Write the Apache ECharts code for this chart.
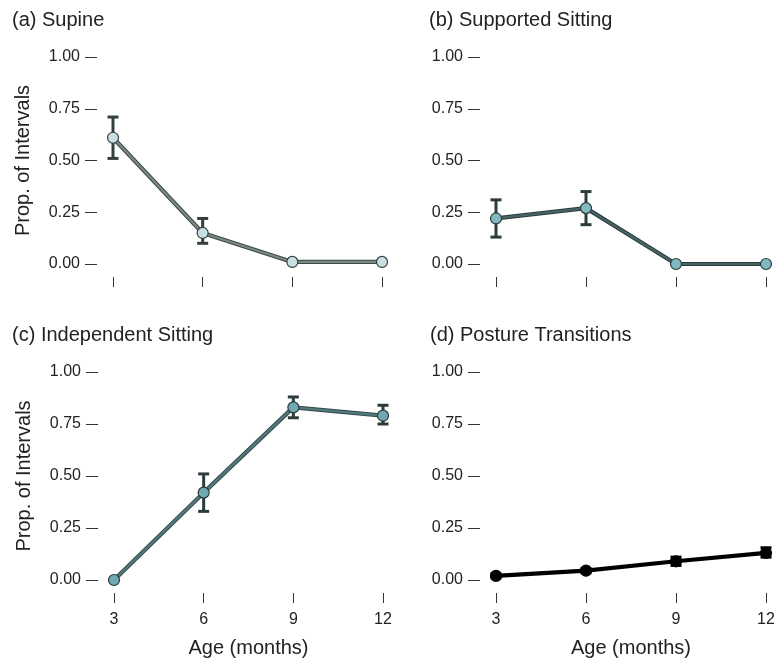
<!DOCTYPE html>
<html>
<head>
<meta charset="utf-8">
<script src="https://cdn.jsdelivr.net/npm/echarts@6/dist/echarts.min.js"></script>
<style>
html,body{margin:0;padding:0;background:#fff;}
#chart{width:778px;height:664px;}
</style>
</head>
<body>
<div id="chart"></div>
<script>
// ---- data ----
const ages = [3, 6, 9, 12];
const yTicks = [0, 0.25, 0.5, 0.75, 1];

const supineMean = [0.61, 0.15, 0.01, 0.01];
const supineLow  = [0.51, 0.10, 0.01, 0.01];
const supineHigh = [0.71, 0.22, 0.01, 0.01];

const supportedMean = [0.22, 0.27, 0.00, 0.00];
const supportedLow  = [0.13, 0.19, 0.00, 0.00];
const supportedHigh = [0.31, 0.35, 0.00, 0.00];

const independentMean = [0.00, 0.42, 0.83, 0.79];
const independentLow  = [0.00, 0.33, 0.78, 0.75];
const independentHigh = [0.00, 0.51, 0.88, 0.84];

const transitionMean = [0.02, 0.045, 0.09, 0.13];
const transitionLow  = [0.01, 0.035, 0.07, 0.11];
const transitionHigh = [0.03, 0.055, 0.11, 0.155];

const panelTitles = ['(a) Supine', '(b) Supported Sitting', '(c) Independent Sitting', '(d) Posture Transitions'];

// ---- styles ----
const FONT = '"Liberation Sans", Arial, Helvetica, sans-serif';
const panels = [
  {mean: supineMean, low: supineLow, high: supineHigh, under: '#3e4947', line: '#7b8985', fill: '#c8e0e3', border: '#34403f', err: '#34403f'},
  {mean: supportedMean, low: supportedLow, high: supportedHigh, under: '#2a3b3c', line: '#486465', fill: '#82b8bf', border: '#2c3c3d', err: '#2c3c3d'},
  {mean: independentMean, low: independentLow, high: independentHigh, under: '#344d4f', line: '#53787b', fill: '#70a9b1', border: '#2c3c3d', err: '#2c3c3d'},
  {mean: transitionMean, low: transitionLow, high: transitionHigh, under: '#000000', line: '#000000', fill: '#000000', border: '#000000', err: '#000000'}
];
const grids = [
  {left: 113, top: 57, width: 269, height: 207},
  {left: 496, top: 57, width: 270, height: 207},
  {left: 114, top: 372, width: 269, height: 208},
  {left: 496, top: 372, width: 270, height: 208}
];
const titlePos = [[7, 5], [424, 5], [7, 320], [425, 320]];

const option = {
  animation: false,
  backgroundColor: '#ffffff',
  title: panelTitles.map((t, i) => ({
    text: t, left: titlePos[i][0], top: titlePos[i][1],
    textStyle: {fontFamily: FONT, fontSize: 20, fontWeight: 'normal', color: '#222'}
  })),
  grid: grids,
  xAxis: grids.map((g, i) => ({
    type: 'value', gridIndex: i, min: 3, max: 12, interval: 3,
    offset: 13,
    axisLine: {show: false, onZero: false},
    axisTick: {show: true, length: 10, lineStyle: {color: '#333', width: 1}},
    splitLine: {show: false},
    axisLabel: {show: i >= 2, margin: 19, fontFamily: FONT, fontSize: 16, color: '#222'},
    name: i >= 2 ? 'Age (months)' : '',
    nameLocation: 'middle', nameGap: 45,
    nameTextStyle: {fontFamily: FONT, fontSize: 20, color: '#222'}
  })),
  yAxis: grids.map((g, i) => ({
    type: 'value', gridIndex: i, min: 0, max: 1, interval: 0.25,
    offset: 16,
    axisLine: {show: false, onZero: false},
    axisTick: {show: true, length: 12, lineStyle: {color: '#333', width: 1}},
    splitLine: {show: false},
    axisLabel: {margin: 17, fontFamily: FONT, fontSize: 16, color: '#222',
      formatter: v => v.toFixed(2)},
    name: (i % 2 === 0) ? 'Prop. of Intervals' : '',
    nameLocation: 'middle', nameGap: 64, nameRotate: 90,
    nameTextStyle: {fontFamily: FONT, fontSize: 20, color: '#222'}
  })),
  series: []
};

panels.forEach((p, i) => {
  const errData = ages.map((a, k) => [a, p.low[k], p.high[k]]);
  const pts = ages.map((a, k) => [a, p.mean[k]]);
  option.series.push({
    type: 'custom', xAxisIndex: i, yAxisIndex: i, z: 1,
    data: errData,
    encode: {x: 0, y: [1, 2]},
    renderItem: function (params, api) {
      const x = api.value(0);
      const lo = api.coord([x, api.value(1)]);
      const hi = api.coord([x, api.value(2)]);
      if (Math.abs(lo[1] - hi[1]) < 0.5) return null;
      const hw = 5.5;
      const st = {stroke: p.err, lineWidth: 3, fill: 'none'};
      return {
        type: 'group',
        children: [
          {type: 'line', shape: {x1: lo[0], y1: lo[1], x2: hi[0], y2: hi[1]}, style: st},
          {type: 'line', shape: {x1: lo[0] - hw, y1: lo[1], x2: lo[0] + hw, y2: lo[1]}, style: st},
          {type: 'line', shape: {x1: hi[0] - hw, y1: hi[1], x2: hi[0] + hw, y2: hi[1]}, style: st}
        ]
      };
    }
  });
  // darker outline under the connecting line
  option.series.push({
    type: 'line', xAxisIndex: i, yAxisIndex: i, z: 2,
    data: pts, symbol: 'none', silent: true,
    lineStyle: {color: p.under, width: 4.2},
    emphasis: {disabled: true}
  });
  option.series.push({
    type: 'line', xAxisIndex: i, yAxisIndex: i, z: 3,
    data: pts,
    symbol: 'circle', symbolSize: 11,
    lineStyle: {color: p.line, width: 2.2},
    itemStyle: {color: p.fill, borderColor: p.border, borderWidth: 1.2},
    emphasis: {disabled: true}
  });
});

const chart = echarts.init(document.getElementById('chart'), null, {renderer: 'canvas'});
chart.setOption(option);
</script>
</body>
</html>
